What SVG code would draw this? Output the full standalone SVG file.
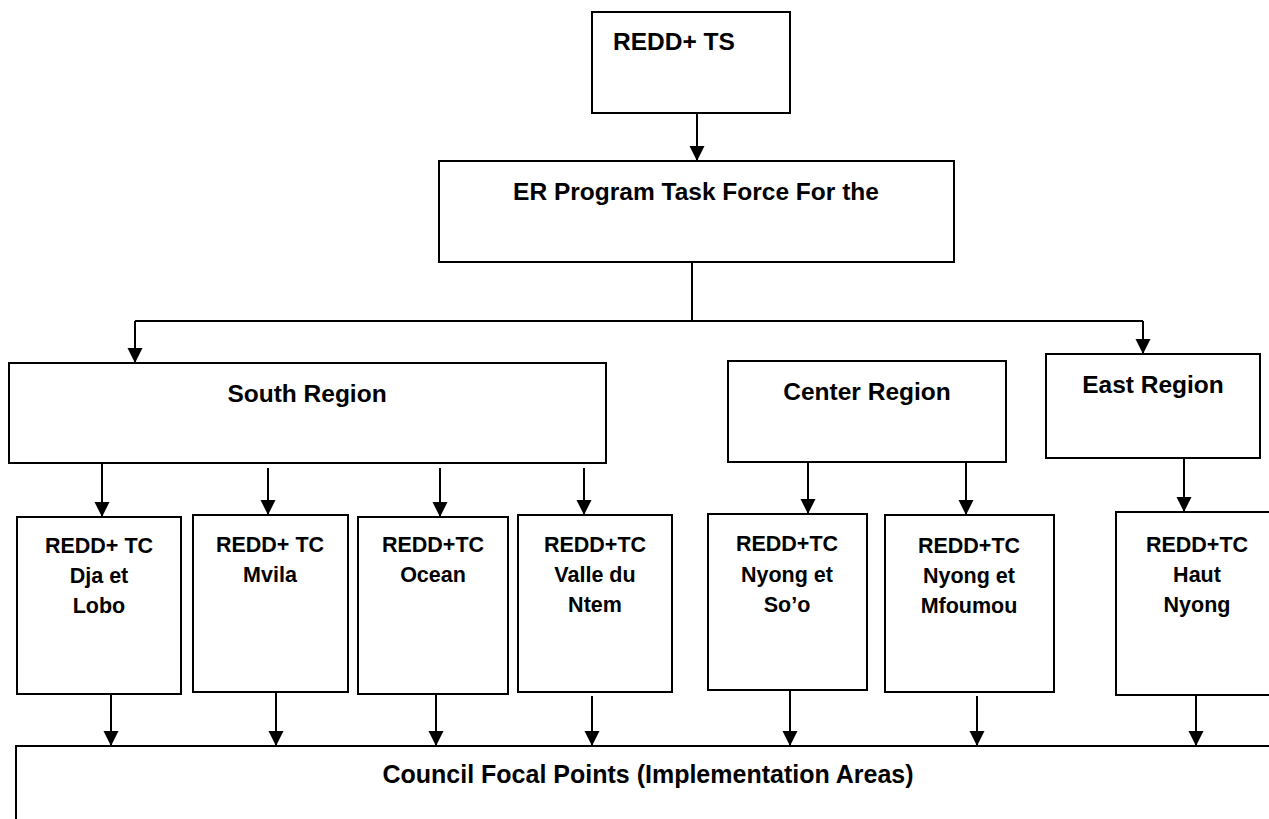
<svg xmlns="http://www.w3.org/2000/svg" width="1269" height="819" viewBox="0 0 1269 819">
<style>
.box{fill:#fff;stroke:#000;stroke-width:2}
.t{font-family:"Liberation Sans",Arial,sans-serif;font-weight:bold;fill:#000}
.big{font-size:24.5px}
.sm{font-size:21.5px;text-anchor:middle}
.mid{text-anchor:middle}
.ln{fill:none;stroke:#000;stroke-width:2}
</style>
<defs>
<marker id="ah" markerUnits="userSpaceOnUse" markerWidth="16" markerHeight="16" refX="15" refY="7.5" orient="auto">
<path d="M0,0 L15,7.5 L0,15 z" fill="#000"/>
</marker>
</defs>
<rect width="1269" height="819" fill="#fff"/>
<g id="connectors">
<line class="ln" x1="697" y1="113" x2="697" y2="161" marker-end="url(#ah)"/>
<polyline class="ln" points="692,262 692,321"/>
<polyline class="ln" points="135,321 1143,321"/>
<line class="ln" x1="135" y1="321" x2="135" y2="363" marker-end="url(#ah)"/>
<line class="ln" x1="1143" y1="321" x2="1143" y2="354" marker-end="url(#ah)"/>
<line class="ln" x1="102" y1="463" x2="102" y2="517" marker-end="url(#ah)"/>
<line class="ln" x1="268" y1="468" x2="268" y2="515" marker-end="url(#ah)"/>
<line class="ln" x1="440" y1="468" x2="440" y2="517" marker-end="url(#ah)"/>
<line class="ln" x1="584" y1="468" x2="584" y2="515" marker-end="url(#ah)"/>
<line class="ln" x1="808" y1="462" x2="808" y2="514" marker-end="url(#ah)"/>
<line class="ln" x1="966" y1="462" x2="966" y2="515" marker-end="url(#ah)"/>
<line class="ln" x1="1184" y1="458" x2="1184" y2="512" marker-end="url(#ah)"/>
<line class="ln" x1="111" y1="694" x2="111" y2="746" marker-end="url(#ah)"/>
<line class="ln" x1="276" y1="692" x2="276" y2="746" marker-end="url(#ah)"/>
<line class="ln" x1="436" y1="694" x2="436" y2="746" marker-end="url(#ah)"/>
<line class="ln" x1="592" y1="696" x2="592" y2="746" marker-end="url(#ah)"/>
<line class="ln" x1="790" y1="690" x2="790" y2="746" marker-end="url(#ah)"/>
<line class="ln" x1="977" y1="696" x2="977" y2="746" marker-end="url(#ah)"/>
<line class="ln" x1="1196" y1="695" x2="1196" y2="746" marker-end="url(#ah)"/>
</g>
<g id="node-ts">
<rect class="box" x="592" y="12" width="198" height="101"/>
<text class="t big" x="613" y="50">REDD+ TS</text>
</g>
<g id="node-er">
<rect class="box" x="439" y="161" width="515" height="101"/>
<text class="t big mid" x="696" y="200">ER Program Task Force For the</text>
</g>
<g id="node-south">
<rect class="box" x="9" y="363" width="597" height="100"/>
<text class="t big mid" x="307" y="402">South Region</text>
</g>
<g id="node-center">
<rect class="box" x="728" y="361" width="278" height="101"/>
<text class="t big mid" x="867" y="400">Center Region</text>
</g>
<g id="node-east">
<rect class="box" x="1046" y="354" width="214" height="104"/>
<text class="t big mid" x="1153" y="393">East Region</text>
</g>
<g id="node-dja">
<rect class="box" x="17" y="517" width="164" height="177"/>
<text class="t sm" x="99" y="553">REDD+ TC</text>
<text class="t sm" x="99" y="583">Dja et</text>
<text class="t sm" x="99" y="613">Lobo</text>
</g>
<g id="node-mvila">
<rect class="box" x="193" y="515" width="155" height="177"/>
<text class="t sm" x="270" y="552">REDD+ TC</text>
<text class="t sm" x="270" y="582">Mvila</text>
</g>
<g id="node-ocean">
<rect class="box" x="358" y="517" width="150" height="177"/>
<text class="t sm" x="433" y="552">REDD+TC</text>
<text class="t sm" x="433" y="582">Ocean</text>
</g>
<g id="node-valle">
<rect class="box" x="518" y="515" width="154" height="177"/>
<text class="t sm" x="595" y="552">REDD+TC</text>
<text class="t sm" x="595" y="582">Valle du</text>
<text class="t sm" x="595" y="612">Ntem</text>
</g>
<g id="node-soo">
<rect class="box" x="708" y="514" width="159" height="176"/>
<text class="t sm" x="787" y="551">REDD+TC</text>
<text class="t sm" x="787" y="582">Nyong et</text>
<text class="t sm" x="787" y="612">So’o</text>
</g>
<g id="node-mfoumou">
<rect class="box" x="885" y="515" width="169" height="177"/>
<text class="t sm" x="969" y="553">REDD+TC</text>
<text class="t sm" x="969" y="583">Nyong et</text>
<text class="t sm" x="969" y="613">Mfoumou</text>
</g>
<g id="node-haut">
<rect class="box" x="1116" y="512" width="164" height="183"/>
<text class="t sm" x="1197" y="552">REDD+TC</text>
<text class="t sm" x="1197" y="582">Haut</text>
<text class="t sm" x="1197" y="612">Nyong</text>
</g>
<g id="node-council">
<rect class="box" x="16" y="746" width="1270" height="90"/>
<text class="t mid" style="font-size:25px" x="648" y="783">Council Focal Points (Implementation Areas)</text>
</g>
</svg>
